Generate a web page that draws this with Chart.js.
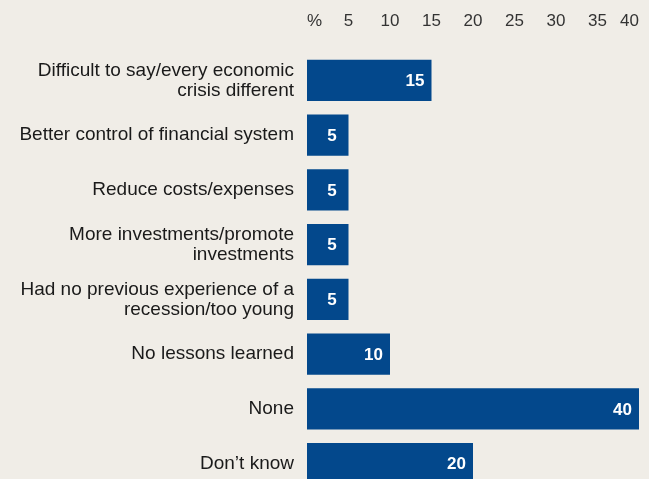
<!DOCTYPE html>
<html>
<head>
<meta charset="utf-8">
<script src="https://cdn.jsdelivr.net/npm/chart.js@4.4.1/dist/chart.umd.min.js"></script>
<style>
  html, body { margin: 0; padding: 0; background: #f0ede7; overflow: hidden; }
  canvas { display: block; }
</style>
</head>
<body>
<canvas id="lessonsChart" width="649" height="491"></canvas>
<script>
const categories = [
  ['Difficult to say/every economic', 'crisis different'],
  'Better control of financial system',
  'Reduce costs/expenses',
  ['More investments/promote', 'investments'],
  ['Had no previous experience of a', 'recession/too young'],
  'No lessons learned',
  'None',
  'Don\u2019t know'
];
const shares = [15, 5, 5, 5, 5, 10, 40, 20];
const tickValues = [0, 5, 10, 15, 20, 25, 30, 35, 40];
const tickLabels = ['%', '5', '10', '15', '20', '25', '30', '35', '40'];

const FONT = '"Liberation Sans", Arial, Helvetica, sans-serif';
const BLUE = '#03488c';

// axes keep a fixed size and add no extra edge padding
function fixSize(prop, size) {
  return scale => {
    scale[prop] = size;
    scale.paddingLeft = scale.paddingRight = 0;
    scale.paddingTop = scale.paddingBottom = 0;
  };
}

// value printed inside the end of each bar
const barValues = {
  id: 'barValues',
  afterDatasetsDraw(chart) {
    const ctx = chart.ctx;
    const meta = chart.getDatasetMeta(0);
    ctx.save();
    ctx.font = 'bold 17px ' + FONT;
    ctx.fillStyle = '#ffffff';
    ctx.textAlign = 'center';
    ctx.textBaseline = 'middle';
    meta.data.forEach((bar, i) => {
      ctx.fillText(String(shares[i]), bar.x - 16.5, bar.y + 1);
    });
    ctx.restore();
  }
};

const ctx = document.getElementById('lessonsChart').getContext('2d');
new Chart(ctx, {
  type: 'bar',
  data: {
    labels: categories,
    datasets: [{
      data: shares,
      backgroundColor: BLUE,
      borderWidth: 0,
      barPercentage: 0.75,
      categoryPercentage: 1
    }]
  },
  options: {
    indexAxis: 'y',
    responsive: false,
    animation: false,
    layout: { padding: { top: 0, right: 10, bottom: 0, left: 0 } },
    plugins: {
      legend: { display: false },
      tooltip: { enabled: false }
    },
    scales: {
      x: {
        position: 'top',
        min: 0,
        max: 40,
        afterBuildTicks: scale => {
          scale.ticks = tickValues.map(v => ({ value: v }));
        },
        afterFit: fixSize('height', 53),
        grid: { display: false, drawTicks: false },
        border: { display: false },
        ticks: {
          align: 'inner',
          padding: 21,
          color: '#333333',
          font: { family: FONT, size: 17 },
          callback: (v, i) => tickLabels[i]
        }
      },
      y: {
        afterFit: fixSize('width', 307),
        grid: { display: false, drawTicks: false },
        border: { display: false },
        ticks: {
          padding: 13,
          color: '#1a1a1a',
          font: { family: FONT, size: 19, lineHeight: 1.06 }
        }
      }
    }
  },
  plugins: [barValues]
});
</script>
</body>
</html>
